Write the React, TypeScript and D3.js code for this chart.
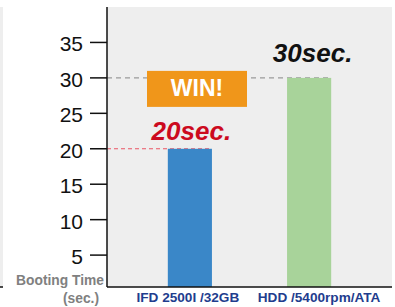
import React, { useEffect, useRef } from 'react';
import * as d3 from 'd3';

const categories = ['IFD 2500I /32GB', 'HDD /5400rpm/ATA'];
const bootSeconds = [20, 30];
const barColors = ['#3a87c8', '#a8d39a'];
const valueLabels = ['20sec.', '30sec.'];
const valueLabelColors = ['#cc0a1e', '#111111'];
const yTicks = [5, 10, 15, 20, 25, 30, 35];

export default function App() {
  const svgRef = useRef<SVGSVGElement>(null);

  useEffect(() => {
    if (!svgRef.current) return;
    const svg = d3.select(svgRef.current);
    svg.selectAll('*').remove();

    const width = 395;
    const height = 307;
    const margin = { top: 7, right: 3, bottom: 20, left: 107 };
    const plotBottom = height - margin.bottom;
    const font = '"Liberation Sans", Arial, sans-serif';

    svg.attr('width', width).attr('height', height);

    const x = d3.scaleBand<string>()
      .domain(categories)
      .range([margin.left, width - margin.right])
      .paddingInner(0.63)
      .paddingOuter(0.51);

    const y = d3.scaleLinear()
      .domain([0.5, 40])
      .range([plotBottom, margin.top]);

    // neighbouring panel fragment on the left edge
    svg.append('rect')
      .attr('x', 0).attr('y', margin.top)
      .attr('width', 3).attr('height', plotBottom - margin.top)
      .attr('fill', '#eeeeee');
    svg.append('line')
      .attr('x1', 0).attr('x2', 3)
      .attr('y1', plotBottom).attr('y2', plotBottom)
      .attr('stroke', '#111').attr('stroke-width', 1.5);

    // plot background
    svg.append('rect')
      .attr('x', margin.left).attr('y', margin.top)
      .attr('width', width - margin.right - margin.left)
      .attr('height', plotBottom - margin.top)
      .attr('fill', '#eeeeee');

    // reference dashed lines
    const bw = x.bandwidth();
    svg.append('line')
      .attr('x1', margin.left).attr('x2', (x(categories[1]) as number) + bw)
      .attr('y1', y(bootSeconds[1])).attr('y2', y(bootSeconds[1]))
      .attr('stroke', '#9a9a9a').attr('stroke-width', 1.2)
      .attr('stroke-dasharray', '5,4');
    svg.append('line')
      .attr('x1', margin.left).attr('x2', (x(categories[0]) as number) + bw)
      .attr('y1', y(bootSeconds[0])).attr('y2', y(bootSeconds[0]))
      .attr('stroke', '#ea5565').attr('stroke-width', 1.2)
      .attr('stroke-dasharray', '4,3');

    // bars
    svg.selectAll('.bar')
      .data(categories)
      .enter()
      .append('rect')
      .attr('class', 'bar')
      .attr('x', d => x(d) as number)
      .attr('y', (d, i) => y(bootSeconds[i]))
      .attr('width', bw)
      .attr('height', (d, i) => plotBottom - y(bootSeconds[i]))
      .attr('fill', (d, i) => barColors[i]);

    // value labels
    const labelShift = [1.5, 3.5];
    categories.forEach((c, i) => {
      svg.append('text')
        .attr('x', (x(c) as number) + bw / 2 + labelShift[i])
        .attr('y', y(bootSeconds[i]) - (i === 0 ? 9 : 16))
        .attr('text-anchor', 'middle')
        .style('font-family', font)
        .style('font-size', '26px')
        .style('font-weight', 'bold')
        .style('font-style', 'italic')
        .style('fill', valueLabelColors[i])
        .text(valueLabels[i]);
    });

    // WIN! badge
    const badgeX = 147;
    const badgeY = y(bootSeconds[1]) - 7;
    svg.append('rect')
      .attr('x', badgeX).attr('y', badgeY)
      .attr('width', 100).attr('height', 36)
      .attr('fill', '#f0961a');
    svg.append('text')
      .attr('x', badgeX + 50).attr('y', badgeY + 25)
      .attr('text-anchor', 'middle')
      .style('font-family', font)
      .style('font-size', '23px')
      .style('font-weight', 'bold')
      .style('fill', '#ffffff')
      .text('WIN!');

    // y axis
    svg.append('line')
      .attr('x1', margin.left).attr('x2', margin.left)
      .attr('y1', margin.top).attr('y2', plotBottom)
      .attr('stroke', '#111').attr('stroke-width', 1.5);
    yTicks.forEach(t => {
      svg.append('line')
        .attr('x1', margin.left - 17).attr('x2', margin.left)
        .attr('y1', y(t)).attr('y2', y(t))
        .attr('stroke', '#111').attr('stroke-width', 1.5);
      svg.append('text')
        .attr('x', margin.left - 24)
        .attr('y', y(t) + 9)
        .attr('text-anchor', 'end')
        .style('font-family', font)
        .style('font-size', '21px')
        .style('fill', '#111')
        .text(t);
    });

    // x axis
    svg.append('line')
      .attr('x1', margin.left).attr('x2', width - margin.right)
      .attr('y1', plotBottom).attr('y2', plotBottom)
      .attr('stroke', '#111').attr('stroke-width', 1.5);

    const catShift = [-2, 10];
    categories.forEach((c, i) => {
      svg.append('text')
        .attr('x', (x(c) as number) + bw / 2 + catShift[i])
        .attr('y', plotBottom + 15)
        .attr('text-anchor', 'middle')
        .style('font-family', font)
        .style('font-size', '13.6px')
        .style('font-weight', 'bold')
        .style('fill', '#1f3d8e')
        .text(c);
    });

    // axis title
    svg.append('text')
      .attr('x', margin.left - 3)
      .attr('y', plotBottom - 2)
      .attr('text-anchor', 'end')
      .style('font-family', font)
      .style('font-size', '13.8px')
      .style('font-weight', 'bold')
      .style('fill', '#808080')
      .text('Booting Time');
    svg.append('text')
      .attr('x', 81)
      .attr('y', plotBottom + 16)
      .attr('text-anchor', 'middle')
      .style('font-family', font)
      .style('font-size', '13.8px')
      .style('font-weight', 'bold')
      .style('fill', '#808080')
      .text('(sec.)');
  }, []);

  return (
    <div style={{ position: 'absolute', left: 0, top: 0, background: '#ffffff' }}>
      <svg ref={svgRef} style={{ display: 'block' }}></svg>
    </div>
  );
}
